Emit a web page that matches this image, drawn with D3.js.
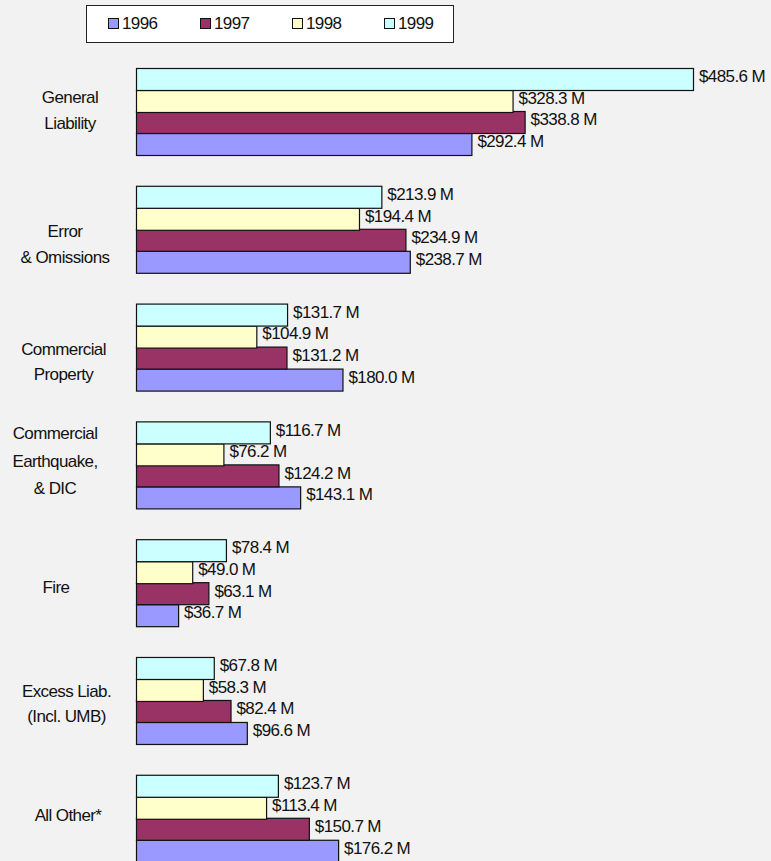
<!DOCTYPE html>
<html>
<head>
<meta charset="utf-8">
<script src="https://cdn.jsdelivr.net/npm/d3@7"></script>
<style>
  html, body { margin: 0; padding: 0; background: #f2f2f2; }
  svg { display: block; }
  text { font-family: "Liberation Sans", Arial, sans-serif; fill: #111; }
</style>
</head>
<body>
<script>
// Premium by line of business, $ millions
const categories = [
  ["General", "Liability"],
  ["Error", "& Omissions"],
  ["Commercial", "Property"],
  ["Commercial", "Earthquake,", "& DIC"],
  ["Fire"],
  ["Excess Liab.", "(Incl. UMB)"],
  ["All Other*"]
];
const years = ["1996", "1997", "1998", "1999"];
const v1996 = [292.4, 238.7, 180.0, 143.1, 36.7, 96.6, 176.2];
const v1997 = [338.8, 234.9, 131.2, 124.2, 63.1, 82.4, 150.7];
const v1998 = [328.3, 194.4, 104.9, 76.2, 49.0, 58.3, 113.4];
const v1999 = [485.6, 213.9, 131.7, 116.7, 78.4, 67.8, 123.7];
const seriesValues = [v1996, v1997, v1998, v1999];
const colors = ["#9999ff", "#993366", "#ffffcc", "#ccffff"];

const W = 771, H = 861;
const FONT = 17, TRACK = -0.6;
const svg = d3.select("body").append("svg").attr("width", W).attr("height", H);

const catKeys = categories.map(c => c.join(" "));
const y = d3.scaleBand().domain(catKeys).range([68, 861]).paddingInner(0.268).paddingOuter(0);
// 1999 drawn on top, 1996 at the bottom of each group
const ySub = d3.scaleBand().domain(years.slice().reverse()).range([0, y.bandwidth()]);
const x = d3.scaleLinear().domain([0, 485.6]).range([136, 693]);

const fmt = v => "$" + d3.format(".1f")(v) + " M";

const groups = svg.selectAll("g.grp").data(categories).join("g")
  .attr("class", "grp")
  .attr("transform", (d, i) => `translate(0,${y(catKeys[i])})`);

years.forEach((yr, s) => {
  groups.append("rect")
    .attr("x", x(0) + 0.5)
    .attr("y", Math.round(ySub(yr)) + 0.5)
    .attr("width", (d, i) => x(seriesValues[s][i]) - x(0))
    .attr("height", Math.round(ySub.bandwidth()))
    .attr("fill", colors[s])
    .attr("stroke", "#111")
    .attr("stroke-width", 1.2);
  groups.append("text")
    .attr("x", (d, i) => x(seriesValues[s][i]) + 6)
    .attr("y", ySub(yr) + ySub.bandwidth() / 2 + 3.5)
    .attr("font-size", FONT)
    .attr("letter-spacing", TRACK)
    .text((d, i) => fmt(seriesValues[s][i]));
});

// category labels: per-label horizontal centre and vertical nudge of the text block
const labelCx = [70, 65, 63.5, 55, 56, 66.5, 68];
const labelDy = [-1, 15, 15, -3.5, 5, 3.5, -3];
groups.each(function(lines, i) {
  const g = d3.select(this);
  const lh = lines.length > 2 ? 27.5 : 25.5;
  const mid = y.bandwidth() / 2 + labelDy[i];
  lines.forEach((ln, k) => {
    g.append("text")
      .attr("x", labelCx[i])
      .attr("y", mid + (k - (lines.length - 1) / 2) * lh + 6)
      .attr("text-anchor", "middle")
      .attr("font-size", FONT)
      .attr("letter-spacing", TRACK)
      .text(ln);
  });
});

// legend
const leg = svg.append("g");
leg.append("rect").attr("x", 86.5).attr("y", 5.5).attr("width", 367).attr("height", 37)
  .attr("fill", "#fff").attr("stroke", "#222").attr("stroke-width", 1);
const legX = d3.scalePoint().domain(years).range([108, 384]);
years.forEach((yr, s) => {
  leg.append("rect").attr("x", legX(yr) + 0.5).attr("y", 18.5).attr("width", 10).attr("height", 10)
    .attr("fill", colors[s]).attr("stroke", "#111").attr("stroke-width", 1);
  leg.append("text").attr("x", legX(yr) + 14).attr("y", 28.5)
    .attr("font-size", FONT).attr("letter-spacing", TRACK).text(yr);
});
</script>
</body>
</html>
